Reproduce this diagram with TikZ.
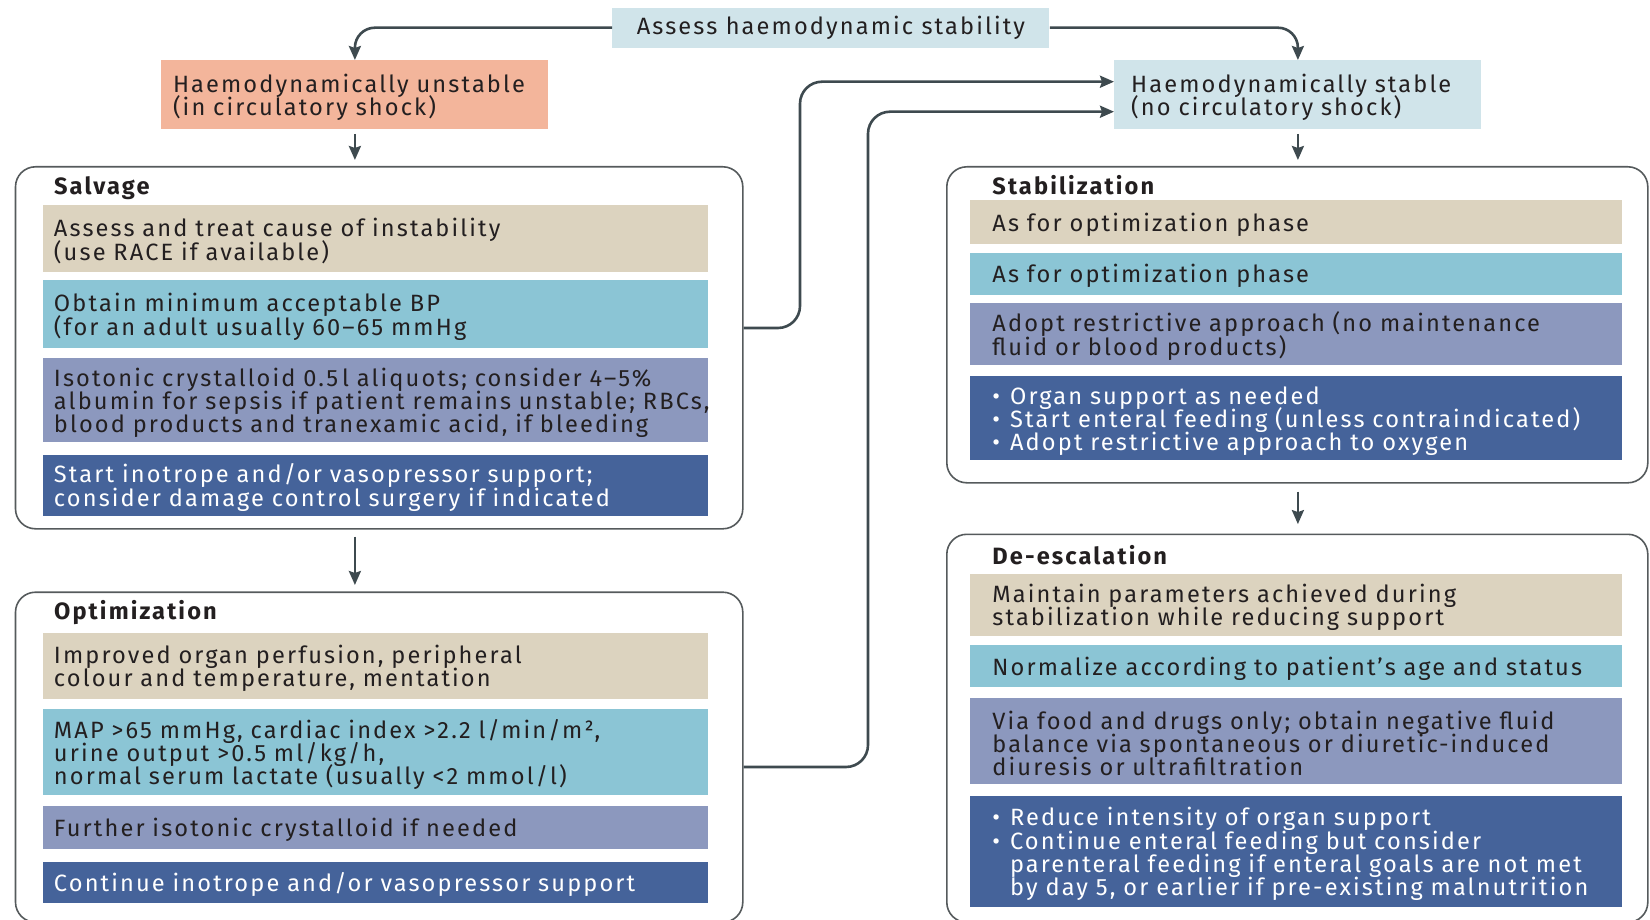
\documentclass[tikz,border=0pt]{standalone}
\usepackage{fontspec}
\setmainfont{Fira Sans}[LetterSpace=9]
\usetikzlibrary{arrows.meta}
\definecolor{tanC}{HTML}{DCD3BF}
\definecolor{cyanC}{HTML}{8BC5D5}
\definecolor{lavC}{HTML}{8C98BE}
\definecolor{darkC}{HTML}{45639A}
\definecolor{salmonC}{HTML}{F3B59B}
\definecolor{lightC}{HTML}{D0E4EA}
\definecolor{lineC}{HTML}{3E4A4F}
\definecolor{borderC}{HTML}{555A5C}
\definecolor{textC}{HTML}{231F20}
\newcommand{\txtlbreak}{\egroup\hbox\bgroup}
\newcommand{\txtl}[1]{\par{\lineskiplimit=-30pt\relax\lineskip=0pt\relax\baselineskip=11.6pt\relax\let\\\txtlbreak\hbox\bgroup#1\egroup}}
\newcommand{\bul}{\makebox[0.75em][l]{\textbullet}}
\newcommand{\bulsp}{\hspace*{0.75em}}
\begin{document}
\begin{tikzpicture}[x=0.5pt,y=-0.5pt,
  every node/.style={font=\fontsize{11.8}{11.6}\selectfont, text=textC},
  outer/.style={draw=borderC, line width=0.8pt, rounded corners=10pt, inner sep=0pt, anchor=north west},
  lbox/.style={anchor=north west, inner sep=0pt, inner xsep=5.3pt, align=left, minimum width=332.5pt, text width=321.9pt},
  rbox/.style={anchor=north west, inner sep=0pt, inner xsep=11pt, align=left, minimum width=325.75pt, text width=303.75pt},
  tanb/.style={fill=tanC},
  cyanb/.style={fill=cyanC},
  lavb/.style={fill=lavC},
  darkb/.style={fill=darkC, text=white},
  head/.style={anchor=base west, inner sep=0pt, font=\fontsize{11.8}{11.6}\selectfont\bfseries},
  conn/.style={draw=lineC, line width=1.3pt, -{Stealth[length=7pt,width=6pt,inset=1pt]}},
  link/.style={conn, rounded corners=11pt},
]
\useasboundingbox (0,0) rectangle (1650,920);

% top boxes
\node[fill=lightC, anchor=north west, inner sep=0pt, minimum width=218.5pt, minimum height=20pt] (assess) at (612,7.3) {Assess haemodynamic stability};
\node[fill=salmonC, anchor=north west, inner sep=0pt, inner xsep=5.8pt, align=left, minimum width=193.5pt, text width=181.9pt, minimum height=34.2pt] (unst) at (161,60) {\txtl{Haemodynamically unstable\\(in circulatory shock)}};
\node[fill=lightC, anchor=north west, inner sep=0pt, inner xsep=8.4pt, align=left, minimum width=183.5pt, text width=166.7pt, minimum height=34.2pt] (stab) at (1114,60) {\txtl{Haemodynamically stable\\(no circulatory shock)}};

% outer boxes
\node[outer, minimum width=363.65pt, minimum height=181pt] (salv) at (14.7,166) {};
\node[outer, minimum width=363.65pt, minimum height=165pt] (opt) at (14.7,591.4) {};
\node[outer, minimum width=350.5pt, minimum height=158pt] (stb) at (946,166) {};
\node[outer, minimum width=350.5pt, minimum height=194pt] (desc) at (946,533.5) {};

% headings
\node[head] (hsalv) at (53.7,194) {Salvage};
\node[head] (hopt) at (53.7,619) {Optimization};
\node[head] (hstb) at (992,194) {Stabilization};
\node[head] (hdesc) at (992,564.5) {De-escalation};

% salvage
\node[lbox, tanb, minimum height=33.25pt] (s1) at (43,205) {\txtl{Assess and treat cause of instability\\(use RACE if available)}};
\node[lbox, cyanb, minimum height=34pt] (s2) at (43,280) {\txtl{Obtain minimum acceptable BP\\(for an adult usually 60–65 mmHg}};
\node[lbox, lavb, minimum height=42pt] (s3) at (43,358) {\txtl{Isotonic crystalloid 0.5\,l aliquots; consider 4–5\%\\albumin for sepsis if patient remains unstable; RBCs,\\blood products and tranexamic acid, if bleeding}};
\node[lbox, darkb, minimum height=30.5pt] (s4) at (43,454.6) {\txtl{Start inotrope and/or vasopressor support;\\consider damage control surgery if indicated}};

% optimization
\node[lbox, tanb, minimum height=33.15pt] (o1) at (43,632.4) {\txtl{Improved organ perfusion, peripheral\\colour and temperature, mentation}};
\node[lbox, cyanb, minimum height=42.75pt] (o2) at (43,709) {\txtl{MAP >65 mmHg, cardiac index >2.2 l/min/m²,\\urine output >0.5 ml/kg/h,\\normal serum lactate (usually <2 mmol/l)}};
\node[lbox, lavb, minimum height=21.5pt] (o3) at (43,806) {\txtl{Further isotonic crystalloid if needed}};
\node[lbox, darkb, minimum height=20.5pt] (o4) at (43,862) {\txtl{Continue inotrope and/or vasopressor support}};

% stabilization
\node[rbox, tanb, minimum height=22pt] (t1) at (970,200) {\txtl{As for optimization phase}};
\node[rbox, cyanb, minimum height=21pt] (t2) at (970,252.5) {\txtl{As for optimization phase}};
\node[rbox, lavb, minimum height=31pt] (t3) at (970,303) {\txtl{Adopt restrictive approach (no maintenance\\fluid or blood products)}};
\node[rbox, darkb, minimum height=42.15pt] (t4) at (970,375.7) {\txtl{\bul Organ support as needed\\\bul Start enteral feeding (unless contraindicated)\\\bul Adopt restrictive approach to oxygen}};

% de-escalation
\node[rbox, tanb, minimum height=31pt] (d1) at (970,573.5) {\txtl{Maintain parameters achieved during\\stabilization while reducing support}};
\node[rbox, cyanb, minimum height=21pt] (d2) at (970,645) {\txtl{Normalize according to patient’s age and status}};
\node[rbox, lavb, minimum height=43.15pt] (d3) at (970,697.7) {\txtl{Via food and drugs only; obtain negative fluid\\balance via spontaneous or diuretic-induced\\diuresis or ultrafiltration}};
\node[rbox, darkb, minimum height=55.75pt] (d4) at (970,795.5) {\txtl{\bul Reduce intensity of organ support\\\bul Continue enteral feeding but consider\\\bulsp parenteral feeding if enteral goals are not met\\\bulsp by day 5, or earlier if pre-existing malnutrition}};

% connectors
\draw[conn, rounded corners=10pt] (assess.west) -| (unst.north);
\draw[conn, rounded corners=10pt] (assess.east) -| (stab.north);
\draw[conn, shorten <=2.3pt, shorten >=3pt] (unst.south) -- (unst.south |- salv.north);
\draw[conn, shorten <=2.3pt, shorten >=3pt] (stab.south) -- (stab.south |- stb.north);
\draw[conn, shorten <=3.5pt, shorten >=3.2pt] (unst.south |- salv.south) -- (unst.south |- opt.north);
\draw[conn, shorten <=4pt, shorten >=4.7pt] (stab.south |- stb.south) -- (stab.south |- desc.north);
\coordinate (k1) at (800,81.7);
\coordinate (k2) at (868,111.7);
\coordinate (e1) at (742,328);
\coordinate (e2) at (742,767);
\draw[link] (salv.east |- e1) -| (k1) -- (stab.west |- k1);
\draw[link] (opt.east |- e2) -| (k2) -- (stab.west |- k2);
\end{tikzpicture}
\end{document}
